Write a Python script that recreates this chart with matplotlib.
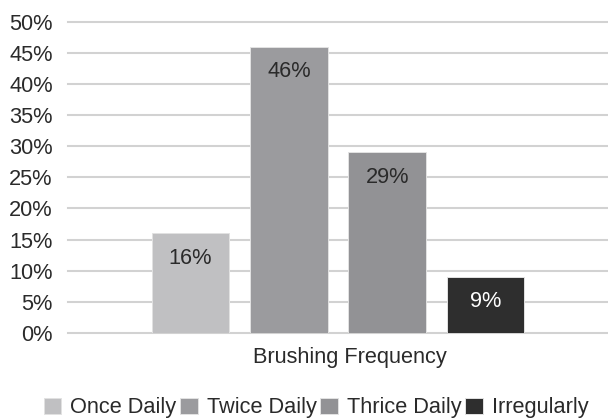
import matplotlib
matplotlib.use("Agg")
import matplotlib.pyplot as plt
from matplotlib.ticker import PercentFormatter

plt.rcParams['font.family'] = ['Liberation Sans', 'DejaVu Sans']

categories = ["Once Daily", "Twice Daily", "Thrice Daily", "Irregularly"]
values = [0.16, 0.46, 0.29, 0.09]
colors = ["#c0c0c2", "#9b9b9e", "#929295", "#2e2e2e"]
label_colors = ["#2a2a2a", "#2a2a2a", "#2a2a2a", "#ffffff"]
y_ticks = [0.00, 0.05, 0.10, 0.15, 0.20, 0.25, 0.30, 0.35, 0.40, 0.45, 0.50]
x_title = "Brushing Frequency"

FS = 15.7

fig = plt.figure(figsize=(6.08, 4.18), dpi=100)
ax = fig.add_axes([68 / 608, 85 / 418, 540 / 608, 311.3 / 418])

positions = list(range(len(categories)))
bars = ax.bar(positions, values, width=0.79, color=colors,
              edgecolor="#e2e2e2", linewidth=0.7, label=categories, zorder=3)

for bar, val, tc in zip(bars, values, label_colors):
    ax.annotate(f"{val * 100:.0f}%",
                xy=(bar.get_x() + bar.get_width() / 2, bar.get_height()),
                xytext=(0, -18), textcoords="offset points",
                ha="center", va="center", fontsize=FS, color=tc, zorder=4)

ax.set_xlim(-1.245, 4.245)
ax.set_ylim(0, 0.5)
ax.set_yticks(y_ticks)
ax.yaxis.set_major_formatter(PercentFormatter(xmax=1, decimals=0))
ax.tick_params(axis="y", length=0, pad=11, labelsize=FS, labelcolor="#2a2a2a")
ax.set_xticks([])

ax.grid(axis="y", color="#d2d2d2", linewidth=1.5, zorder=0)
for gl in ax.get_ygridlines():
    gl.set_clip_on(False)
for s in ax.spines.values():
    s.set_visible(False)

ax.set_xlabel(x_title, fontsize=FS, color="#2a2a2a", va="center")
ax.xaxis.set_label_coords((350 - 68) / 540, -24 / 311.3)

fig.legend(handles=bars, labels=categories, loc="center",
           bbox_to_anchor=(316 / 608, 1 - 408 / 418), ncol=4, frameon=False,
           fontsize=FS, handlelength=0.8, handleheight=0.8,
           handletextpad=0.41, columnspacing=0.18, labelcolor="#2a2a2a",
           borderaxespad=0, borderpad=0)

fig.savefig("out.png", dpi=100)
